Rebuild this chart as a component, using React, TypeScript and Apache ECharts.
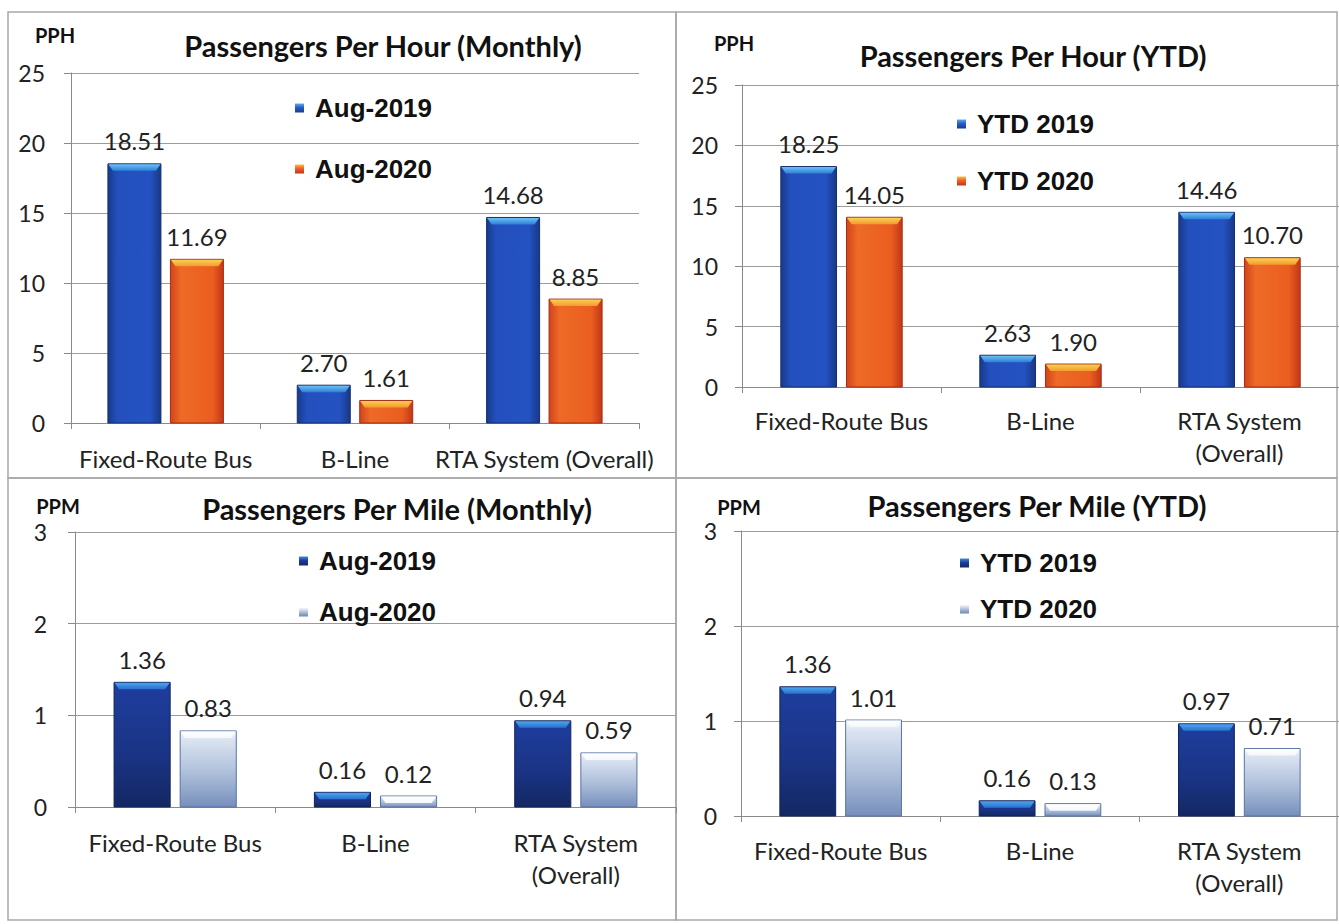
import React, { useEffect, useRef } from "react";
import * as echarts from "echarts";

// ---------- data ----------
const categoriesSingle = ["Fixed-Route Bus", "B-Line", "RTA System (Overall)"];
const categoriesWrapped = ["Fixed-Route Bus", "B-Line", "RTA System\n(Overall)"];

const pphMonthly2019 = [18.51, 2.7, 14.68];
const pphMonthly2020 = [11.69, 1.61, 8.85];
const pphYtd2019 = [18.25, 2.63, 14.46];
const pphYtd2020 = [14.05, 1.9, 10.7];
const ppmMonthly2019 = [1.36, 0.16, 0.94];
const ppmMonthly2020 = [0.83, 0.12, 0.59];
const ppmYtd2019 = [1.36, 0.16, 0.97];
const ppmYtd2020 = [1.01, 0.13, 0.71];

const monthlyNames = ["Aug-2019", "Aug-2020"];
const ytdNames = ["YTD 2019", "YTD 2020"];

const titles = [
  "Passengers Per Hour (Monthly)",
  "Passengers Per Hour (YTD)",
  "Passengers Per Mile (Monthly)",
  "Passengers Per Mile (YTD)",
];
const unitLabels = ["PPH", "PPH", "PPM", "PPM"];

const pphAxis = { min: 0, max: 25, interval: 5 };
const ppmAxis = { min: 0, max: 3, interval: 1 };

// ---------- styles ----------
const LG = (x1: number, y1: number, x2: number, y2: number, stops: [number, string][]) =>
  new echarts.graphic.LinearGradient(
    x1, y1, x2, y2,
    stops.map(([offset, color]) => ({ offset, color }))
  );

const barStyles = {
  blue: {
    body: () => LG(0, 0, 1, 0, [[0, "#183a8c"], [0.18, "#2350bd"], [0.8, "#2452c2"], [1, "#183886"]]),
    edge: "#15306f",
    cap: () => LG(0, 0, 0, 1, [[0, "#6cc0f4"], [1, "#2e7fd6"]]),
    legend: () => LG(0, 0, 0, 1, [[0, "#5aaef0"], [0.45, "#2a5cc8"], [1, "#1a3a8c"]]),
  },
  orange: {
    body: () => LG(0, 0, 1, 0, [[0, "#d2441a"], [0.2, "#ee6a26"], [0.8, "#ea5e1f"], [1, "#c2361a"]]),
    edge: "#a52e14",
    cap: () => LG(0, 0, 0, 1, [[0, "#fbd050"], [1, "#f39a30"]]),
    legend: () => LG(0, 0, 0, 1, [[0, "#f8c048"], [0.45, "#ec6224"], [1, "#c0361a"]]),
  },
  navy: {
    body: () => LG(0, 0, 0, 1, [[0, "#1e3e9e"], [0.6, "#1a3384"], [1, "#132862"]]),
    edge: "#10235a",
    cap: () => LG(0, 0, 0, 1, [[0, "#4aa6ec"], [1, "#2a6fcf"]]),
    legend: () => LG(0, 0, 0, 1, [[0, "#3a8ee0"], [0.45, "#1d3d9c"], [1, "#132862"]]),
  },
  light: {
    body: () => LG(0, 0, 0, 1, [[0, "#f6f9fd"], [0.12, "#dae3f0"], [0.55, "#aebfda"], [1, "#768fbb"]]),
    edge: "#5873a6",
    cap: () => LG(0, 0, 0, 1, [[0, "#ffffff"], [1, "#f4f7fb"]]),
    legend: () => LG(0, 0, 0, 1, [[0, "#ffffff"], [0.5, "#b0c1dc"], [1, "#6d86b2"]]),
  },
};

type Panel = {
  grid: { left: number; top: number; width: number; height: number };
  cats: string[];
  axis: { min: number; max: number; interval: number };
  names: string[];
  values: number[][];
  styles: (keyof typeof barStyles)[];
  legend: { left: number; top: number; gap: number };
  title: { x: number; y: number };
  unit: { x: number; y: number };
  xLabelMargin: number;
  yLabelMargin: number;
};

const panels: Panel[] = [
  {
    grid: { left: 71, top: 73, width: 568, height: 350 },
    cats: categoriesSingle,
    axis: pphAxis,
    names: monthlyNames,
    values: [pphMonthly2019, pphMonthly2020],
    styles: ["blue", "orange"],
    legend: { left: 295, top: 95, gap: 35 },
    title: { x: 383, y: 45 },
    unit: { x: 55, y: 35 },
    xLabelMargin: 19,
    yLabelMargin: 26,
  },
  {
    grid: { left: 742, top: 85, width: 597, height: 302 },
    cats: categoriesWrapped,
    axis: pphAxis,
    names: ytdNames,
    values: [pphYtd2019, pphYtd2020],
    styles: ["blue", "orange"],
    legend: { left: 957, top: 111, gap: 31 },
    title: { x: 1033, y: 55 },
    unit: { x: 734, y: 43 },
    xLabelMargin: 17,
    yLabelMargin: 24,
  },
  {
    grid: { left: 75, top: 532, width: 601, height: 275 },
    cats: categoriesWrapped,
    axis: ppmAxis,
    names: monthlyNames,
    values: [ppmMonthly2019, ppmMonthly2020],
    styles: ["navy", "light"],
    legend: { left: 299, top: 548, gap: 25 },
    title: { x: 397, y: 508 },
    unit: { x: 58, y: 506 },
    xLabelMargin: 19,
    yLabelMargin: 28,
  },
  {
    grid: { left: 741, top: 531, width: 598, height: 285 },
    cats: categoriesWrapped,
    axis: ppmAxis,
    names: ytdNames,
    values: [ppmYtd2019, ppmYtd2020],
    styles: ["navy", "light"],
    legend: { left: 960, top: 550, gap: 20 },
    title: { x: 1037, y: 505 },
    unit: { x: 739, y: 507 },
    xLabelMargin: 18,
    yLabelMargin: 24,
  },
];

const FONT = "Lato, 'Open Sans', sans-serif";
const LEGEND_FONT = "'Liberation Sans', Arial, sans-serif";

function makeRender(styleKey: keyof typeof barStyles, slot: number) {
  const st = barStyles[styleKey];
  return (_params: any, api: any) => {
    const cat = api.value(0);
    const v = api.value(1);
    const base = api.coord([cat, 0]);
    const top = api.coord([cat, v]);
    const band = api.size([1, 0])[0];
    const w = band * 0.28;
    const gap = band * 0.05;
    const cx = base[0] + (slot === 0 ? -1 : 1) * (gap / 2 + w / 2);
    const x = cx - w / 2;
    const y = top[1];
    const h = base[1] - top[1];
    const capH = Math.min(7, h);
    const inset = 5;
    return {
      type: "group",
      children: [
        {
          type: "rect",
          shape: { x, y, width: w, height: h },
          style: { fill: st.body(), stroke: st.edge, lineWidth: 1 },
        },
        {
          type: "polygon",
          shape: {
            points: [
              [x + 0.5, y + 0.5],
              [x + w - 0.5, y + 0.5],
              [x + w - inset, y + capH],
              [x + inset, y + capH],
            ],
          },
          style: { fill: st.cap() },
        },
        {
          type: "text",
          x: cx,
          y: y - 11,
          style: {
            text: v.toFixed(2),
            textAlign: "center",
            align: "center",
            textVerticalAlign: "bottom",
            verticalAlign: "bottom",
            fontSize: 24,
            fontFamily: FONT,
            fill: "#222",
          },
        },
      ],
    };
  };
}

export default function App() {
  const ref = useRef<HTMLDivElement>(null);

  useEffect(() => {
    document.body.style.margin = "0";
    if (!ref.current) return;
    const chart = echarts.init(ref.current, null, { renderer: "svg" });

    const grid: any[] = [];
    const xAxis: any[] = [];
    const yAxis: any[] = [];
    const series: any[] = [];
    const legend: any[] = [];
    const graphic: any[] = [];

    // panel borders
    const borders = [
      { x: 8, y: 12, width: 668, height: 466 },
      { x: 676, y: 12, width: 661, height: 466 },
      { x: 8, y: 478, width: 668, height: 442 },
      { x: 676, y: 478, width: 661, height: 442 },
    ];
    borders.forEach((b) =>
      graphic.push({
        type: "rect",
        shape: b,
        style: { fill: "none", stroke: "#a8a8a8", lineWidth: 1.5 },
        z: 0,
      })
    );

    panels.forEach((p, i) => {
      grid.push({ ...p.grid, containLabel: false });
      xAxis.push({
        gridIndex: i,
        type: "category",
        data: p.cats,
        axisLine: { lineStyle: { color: "#8a8a8a", width: 1 } },
        axisTick: { show: true, length: 6, lineStyle: { color: "#8a8a8a" } },
        axisLabel: {
          interval: 0,
          fontSize: 24,
          fontFamily: FONT,
          color: "#222",
          margin: p.xLabelMargin,
          lineHeight: 32,
        },
      });
      yAxis.push({
        gridIndex: i,
        type: "value",
        min: p.axis.min,
        max: p.axis.max,
        interval: p.axis.interval,
        axisLine: { show: true, lineStyle: { color: "#8a8a8a", width: 1 } },
        axisTick: { show: true, length: 7, lineStyle: { color: "#8a8a8a" } },
        splitLine: { show: true, lineStyle: { color: "#9c9c9c", width: 1 } },
        axisLabel: {
          fontSize: 23,
          fontFamily: FONT,
          color: "#222",
          margin: p.yLabelMargin,
        },
      });
      p.names.forEach((name, s) => {
        series.push({
          type: "custom",
          name,
          xAxisIndex: i,
          yAxisIndex: i,
          data: p.values[s].map((v, k) => [k, v]),
          encode: { x: 0, y: 1 },
          renderItem: makeRender(p.styles[s], s),
          z: 3,
        });
      });
      legend.push({
        orient: "vertical",
        left: p.legend.left,
        top: p.legend.top,
        padding: 0,
        itemGap: p.legend.gap,
        itemWidth: 9,
        itemHeight: 9,
        icon: "rect",
        selectedMode: false,
        data: p.names.map((name, s) => ({
          name,
          itemStyle: { color: barStyles[p.styles[s]].legend() },
        })),
        textStyle: {
          fontSize: 26,
          fontWeight: "bold",
          fontFamily: LEGEND_FONT,
          color: "#111",
          lineHeight: 26,
          padding: [0, 0, 0, 6],
        },
      });
      graphic.push({
        type: "text",
        x: p.title.x,
        y: p.title.y,
        style: {
          text: titles[i],
          textAlign: "center",
          textVerticalAlign: "middle",
          fontSize: 29,
          fontWeight: "bold",
          fontFamily: FONT,
          fill: "#111",
        },
      });
      graphic.push({
        type: "text",
        x: p.unit.x,
        y: p.unit.y,
        style: {
          text: unitLabels[i],
          textAlign: "center",
          textVerticalAlign: "middle",
          fontSize: 20,
          fontWeight: "bold",
          fontFamily: FONT,
          fill: "#111",
        },
      });
    });

    chart.setOption({
      animation: false,
      backgroundColor: "#ffffff",
      grid,
      xAxis,
      yAxis,
      series,
      legend,
      graphic,
    });

    return () => chart.dispose();
  }, []);

  return (
    <div
      ref={ref}
      style={{ position: "fixed", left: 0, top: 0, width: 1339, height: 924 }}
    />
  );
}
